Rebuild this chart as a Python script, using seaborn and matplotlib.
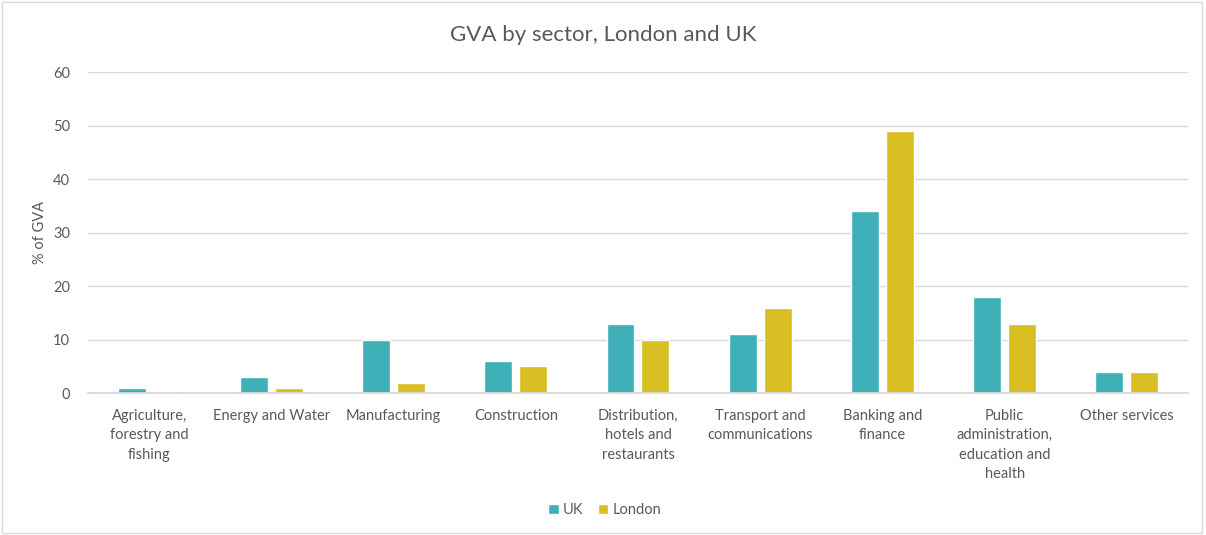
import matplotlib
matplotlib.use("Agg")
import matplotlib.pyplot as plt
from matplotlib.patches import Rectangle
import pandas as pd
import seaborn as sns

sectors = [
    "Agriculture,\nforestry and\nfishing",
    "Energy and Water",
    "Manufacturing",
    "Construction",
    "Distribution,\nhotels and\nrestaurants",
    "Transport and\ncommunications",
    "Banking and\nfinance",
    "Public\nadministration,\neducation and\nhealth",
    "Other services",
]
uk_values = [1, 3, 10, 6, 13, 11, 34, 18, 4]
london_values = [0, 1, 2, 5, 10, 16, 49, 13, 4]
series_names = ["UK", "London"]
series_colors = ["#3FAFB8", "#D8BE22"]
y_ticks = [0, 10, 20, 30, 40, 50, 60]

df = pd.DataFrame({
    "Sector": sectors * 2,
    "Value": uk_values + london_values,
    "Series": [series_names[0]] * len(sectors) + [series_names[1]] * len(sectors),
})

sns.set_theme(style="white")
plt.rcParams["font.family"] = ["Lato", "DejaVu Sans"]
text_grey = "#595959"

fig = plt.figure(figsize=(12.06, 5.35), dpi=100)
ax = fig.add_axes([0.073, 0.265, 0.912, 0.600])

sns.barplot(
    data=df, x="Sector", y="Value", hue="Series",
    palette=series_colors, width=0.57, gap=0.2,
    saturation=1, ax=ax, legend=True,
)

ax.set_ylim(0, 60)
ax.set_yticks(y_ticks)
ax.set_yticklabels([str(t) for t in y_ticks], color=text_grey, fontsize=10.5)
ax.tick_params(axis="x", colors=text_grey, labelsize=10.5, length=0, pad=11)
ax.tick_params(axis="y", length=0, pad=13)
ax.grid(axis="y", color="#D9D9D9", linewidth=1)
ax.set_axisbelow(True)
for side in ["top", "right", "left"]:
    ax.spines[side].set_visible(False)
ax.spines["bottom"].set_color("#D9D9D9")
ax.set_xlabel("")
ax.set_ylabel("% of GVA", color=text_grey, fontsize=10.5)
ax.yaxis.set_label_coords(-0.037, 0.5)

for lbl in ax.get_xticklabels():
    lbl.set_ha("center")
    lbl.set_multialignment("center")
    lbl.set_linespacing(1.5)

fig.text(0.5, 1 - 35 / 535, "GVA by sector, London and UK", color=text_grey,
         fontsize=16, ha="center", va="center")

leg = ax.legend(
    loc="center", bbox_to_anchor=(0.47, -0.365), ncol=2, frameon=False,
    fontsize=10.5, handlelength=0.7, handleheight=0.7, handletextpad=0.3,
    columnspacing=1.0,
)
for t in leg.get_texts():
    t.set_color(text_grey)

fig.patches.append(Rectangle((0.002, 0.004), 0.995, 0.992, transform=fig.transFigure,
                             fill=False, edgecolor="#D9D9D9", linewidth=1))

fig.savefig("out.png", dpi=100, facecolor="white")
